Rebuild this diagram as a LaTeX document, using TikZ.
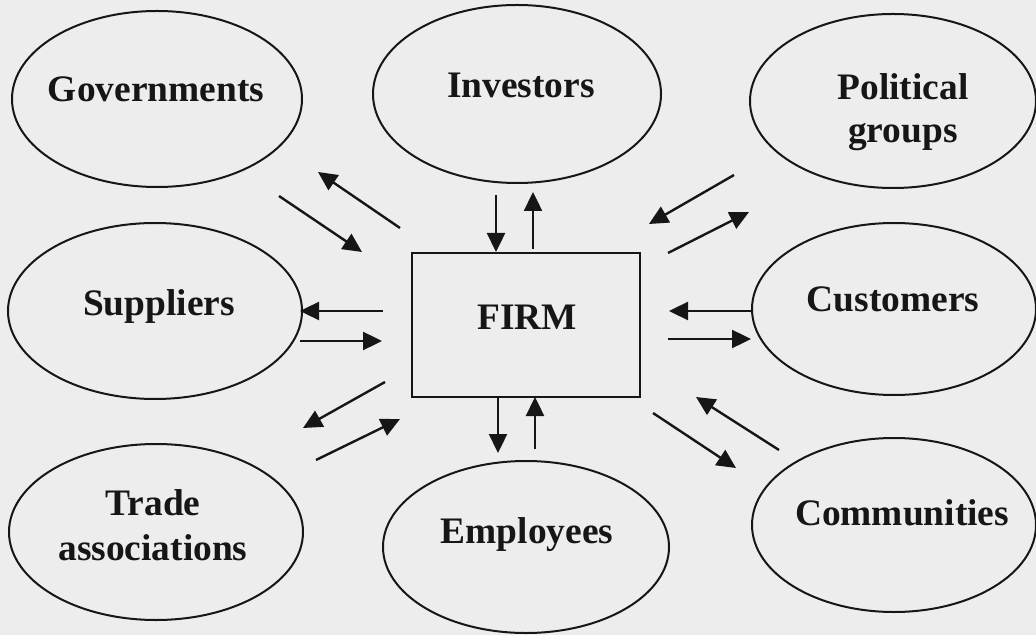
\documentclass[tikz,border=0pt]{standalone}
\usepackage{fontspec}
\setmainfont{Liberation Serif}
\usetikzlibrary{arrows.meta,shapes.geometric}
\definecolor{paper}{RGB}{237,237,237}
\definecolor{ink}{RGB}{22,22,22}
\begin{document}
\begin{tikzpicture}[x=0.5pt,y=-0.5pt,
  party/.style={draw=ink,line width=1pt,ellipse,inner sep=0pt},
  firmbox/.style={draw=ink,line width=1pt,rectangle,inner sep=0pt},
  lbl/.style={anchor=base,inner sep=0pt,text=ink,font=\fontsize{18.7}{21.5}\selectfont\bfseries},
  flow/.style={draw=ink,line width=1.2pt,-{Triangle[length=9.5pt,width=9pt]}}]
% page
\fill[paper] (0,0) rectangle (1036,635);
\useasboundingbox (0,0) rectangle (1036,635);

% stakeholder ellipses
\node[party,minimum width=145pt,minimum height=88pt] (gov) at (157,99) {};
\node[party,minimum width=144pt,minimum height=89pt] (inv) at (517,94) {};
\node[party,minimum width=143pt,minimum height=87pt] (pol) at (893,101) {};
\node[party,minimum width=147pt,minimum height=88pt] (sup) at (155,311) {};
\node[party,minimum width=142pt,minimum height=86pt] (cus) at (894,309) {};
\node[party,minimum width=147pt,minimum height=88pt] (tra) at (156,532) {};
\node[party,minimum width=143pt,minimum height=86pt] (emp) at (526,547) {};
\node[party,minimum width=142pt,minimum height=87pt] (com) at (894,525) {};

% the firm
\node[firmbox,minimum width=114pt,minimum height=72pt] (firm) at (526,325) {};

% labels
\node[lbl] (tgov) at (156,102) {Governments};
\node[lbl] (tinv) at (521,98) {Investors};
\node[lbl] (tpol1) at (903,100) {Political};
\node[lbl] (tpol2) at (903,143) {groups};
\node[lbl] (tsup) at (159,316) {Suppliers};
\node[lbl] (tfirm) at (527,330) {FIRM};
\node[lbl] (tcus) at (893,312) {Customers};
\node[lbl] (ttra1) at (153,515) {Trade};
\node[lbl] (ttra2) at (153,560) {associations};
\node[lbl] (temp) at (527,543) {Employees};
\node[lbl] (tcom) at (902,525) {Communities};

% arrow end points
\coordinate (g1a) at (279,196); \coordinate (g1b) at (362,252);
\coordinate (g2a) at (400,228); \coordinate (g2b) at (318,172);
\coordinate (i1a) at (496,195); \coordinate (i1b) at (496,252);
\coordinate (i2a) at (533,249); \coordinate (i2b) at (533,192);
\coordinate (p1a) at (734,175); \coordinate (p1b) at (649,224);
\coordinate (p2a) at (668,253); \coordinate (p2b) at (749,212);
\coordinate (s1a) at (383,311); \coordinate (s1b) at (300,311);
\coordinate (s2a) at (300,341); \coordinate (s2b) at (382,341);
\coordinate (c1a) at (753,311); \coordinate (c1b) at (669,311);
\coordinate (c2a) at (668,339); \coordinate (c2b) at (751,339);
\coordinate (t1a) at (385,382); \coordinate (t1b) at (303,428);
\coordinate (t2a) at (316,460); \coordinate (t2b) at (400,419);
\coordinate (e1a) at (498,397); \coordinate (e1b) at (498,453);
\coordinate (e2a) at (535,449); \coordinate (e2b) at (535,397);
\coordinate (m1a) at (653,413); \coordinate (m1b) at (736,468);
\coordinate (m2a) at (779,450); \coordinate (m2b) at (696,397);

% flows between the firm and its stakeholders
\draw[flow] (g1a) -- (g1b);
\draw[flow] (g2a) -- (g2b);
\draw[flow] (i1a) -- (i1b);
\draw[flow] (i2a) -- (i2b);
\draw[flow] (p1a) -- (p1b);
\draw[flow] (p2a) -- (p2b);
\draw[flow] (s1a) -- (s1b);
\draw[flow] (s2a) -- (s2b);
\draw[flow] (c1a) -- (c1b);
\draw[flow] (c2a) -- (c2b);
\draw[flow] (t1a) -- (t1b);
\draw[flow] (t2a) -- (t2b);
\draw[flow] (e1a) -- (e1b);
\draw[flow] (e2a) -- (e2b);
\draw[flow] (m1a) -- (m1b);
\draw[flow] (m2a) -- (m2b);
\end{tikzpicture}
\end{document}
